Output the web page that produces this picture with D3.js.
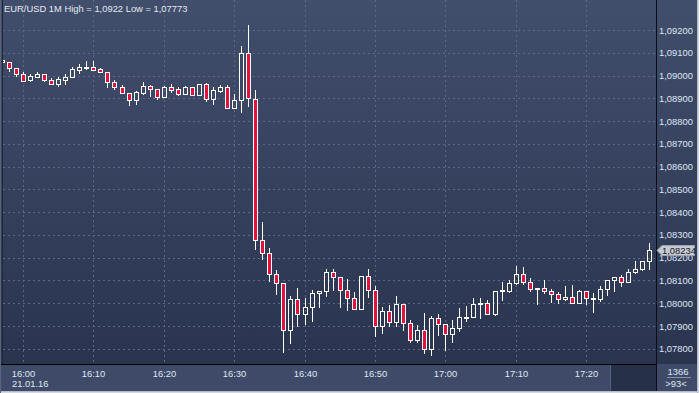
<!DOCTYPE html>
<html><head><meta charset="utf-8">
<script src="https://cdn.jsdelivr.net/npm/d3@7"></script>
<style>
html,body{margin:0;padding:0;background:#b9c0cc;}
svg{display:block;font-family:"Liberation Sans",Arial,sans-serif;}
</style>
</head><body>
<svg id="c" width="699" height="393"></svg>
<script>
const times = ["15:57","15:58","15:59","16:00","16:01","16:02","16:03","16:04","16:05","16:06",
"16:07","16:08","16:09","16:10","16:11","16:12","16:13","16:14","16:15","16:16",
"16:17","16:18","16:19","16:20","16:21","16:22","16:23","16:24","16:25","16:26",
"16:27","16:28","16:29","16:30","16:31","16:32","16:33","16:34","16:35","16:36",
"16:37","16:38","16:39","16:40","16:41","16:42","16:43","16:44","16:45","16:46",
"16:47","16:48","16:49","16:50","16:51","16:52","16:53","16:54","16:55","16:56",
"16:57","16:58","16:59","17:00","17:01","17:02","17:03","17:04","17:05","17:06",
"17:07","17:08","17:09","17:10","17:11","17:12","17:13","17:14","17:15","17:16",
"17:17","17:18","17:19","17:20","17:21","17:22","17:23","17:24","17:25","17:26",
"17:27","17:28","17:29"];

const open = [1.09060,1.09058,1.09032,1.09007,1.08979,1.08995,1.09007,1.08979,1.08964,1.08982,
1.08992,1.09026,1.09035,1.09038,1.09028,1.09014,1.08972,1.08950,1.08924,1.08892,
1.08925,1.08953,1.08940,1.08907,1.08949,1.08940,1.08919,1.08949,1.08916,1.08963,
1.08899,1.08934,1.08949,1.08857,1.08893,1.09098,1.08896,1.08278,1.08221,1.08129,
1.08089,1.07881,1.08019,1.07952,1.07984,1.08045,1.08053,1.08137,1.08115,1.08060,
1.08023,1.07976,1.08121,1.08057,1.07899,1.07968,1.07916,1.07998,1.07914,1.07837,
1.07884,1.07797,1.07936,1.07909,1.07865,1.07892,1.07936,1.07938,1.07997,1.08001,
1.07953,1.08054,1.08052,1.08089,1.08130,1.08093,1.08063,1.08067,1.08055,1.08041,
1.08019,1.08028,1.08001,1.08052,1.08020,1.08020,1.08063,1.08100,1.08115,1.08093,
1.08137,1.08150,1.08184];

const high = [1.09073,1.09060,1.09033,1.09014,1.09007,1.09016,1.09008,1.08991,1.08992,1.09007,
1.09036,1.09051,1.09063,1.09063,1.09032,1.09014,1.08981,1.08957,1.08924,1.08934,
1.08971,1.08959,1.08940,1.08954,1.08963,1.08951,1.08954,1.08949,1.08963,1.08966,
1.08951,1.08959,1.08959,1.08919,1.09130,1.09220,1.08937,1.08359,1.08243,1.08144,
1.08089,1.08033,1.08068,1.08025,1.08060,1.08054,1.08150,1.08152,1.08115,1.08107,
1.08050,1.08121,1.08152,1.08077,1.07984,1.07994,1.08033,1.07998,1.07928,1.07903,
1.07959,1.07946,1.07954,1.07909,1.07928,1.07979,1.07990,1.08023,1.08023,1.08013,
1.08054,1.08093,1.08104,1.08165,1.08159,1.08111,1.08067,1.08100,1.08063,1.08050,
1.08077,1.08080,1.08060,1.08052,1.08045,1.08077,1.08104,1.08115,1.08125,1.08150,
1.08187,1.08187,1.08265];

const low = [1.09055,1.09020,1.09000,1.08975,1.08976,1.08995,1.08978,1.08964,1.08956,1.08962,
1.08992,1.09011,1.09028,1.09026,1.09014,1.08951,1.08940,1.08922,1.08872,1.08874,
1.08918,1.08912,1.08896,1.08907,1.08929,1.08916,1.08919,1.08916,1.08916,1.08890,
1.08875,1.08929,1.08857,1.08857,1.08842,1.08868,1.08238,1.08194,1.08099,1.08042,
1.07785,1.07826,1.07899,1.07907,1.07921,1.07984,1.08030,1.08057,1.07984,1.07972,
1.07976,1.07976,1.08028,1.07855,1.07870,1.07899,1.07899,1.07884,1.07829,1.07829,
1.07782,1.07773,1.07862,1.07793,1.07829,1.07877,1.07924,1.07938,1.07936,1.07953,
1.07947,1.08013,1.08048,1.08083,1.08085,1.08052,1.07997,1.08045,1.08006,1.08001,
1.08013,1.08001,1.08001,1.07998,1.07960,1.08008,1.08038,1.08052,1.08074,1.08093,
1.08133,1.08147,1.08150];

const close = [1.09068,1.09032,1.09006,1.08978,1.08998,1.09007,1.08981,1.08964,1.08985,1.08994,
1.09028,1.09038,1.09036,1.09026,1.09014,1.08971,1.08950,1.08922,1.08892,1.08927,
1.08954,1.08940,1.08907,1.08950,1.08938,1.08919,1.08950,1.08916,1.08963,1.08897,
1.08937,1.08949,1.08857,1.08892,1.09098,1.08900,1.08279,1.08221,1.08129,1.08089,
1.07881,1.08019,1.07952,1.07985,1.08045,1.08054,1.08137,1.08114,1.08057,1.08023,
1.07976,1.08121,1.08057,1.07899,1.07968,1.07918,1.07998,1.07914,1.07837,1.07884,
1.07797,1.07936,1.07911,1.07865,1.07892,1.07940,1.07940,1.07997,1.08000,1.07953,
1.08054,1.08057,1.08089,1.08130,1.08092,1.08063,1.08067,1.08052,1.08041,1.08019,
1.08028,1.08001,1.08052,1.08023,1.08023,1.08063,1.08104,1.08115,1.08093,1.08139,
1.08150,1.08187,1.08234];

const yTicks = [1.078,1.079,1.080,1.081,1.082,1.083,1.084,1.085,1.086,1.087,1.088,1.089,1.090,1.091,1.092];
const xTicks = ["16:00","16:10","16:20","16:30","16:40","16:50","17:00","17:10","17:20"];
const day = "2016-01-21";
const dateLabel = "21.01.16";
const title = "EUR/USD 1M High = 1,0922 Low = 1,07773";
const lastPrice = 1.08234;
const barCount = "1366";
const visibleCount = ">93<";

const svg = d3.select("#c");
const parse = d3.timeParse("%Y-%m-%d %H:%M");
const PX0 = 3, PX1 = 656, PY1 = 364;

const x = d3.scaleTime()
  .domain([parse(day + " 16:00"), parse(day + " 17:20")])
  .range([23, 586]);
const y = d3.scaleLinear().domain([1.078, 1.092]).range([348.8, 30]);
const fmt = v => d3.format(".5f")(v).replace(".", ",");

const defs = svg.append("defs");
const g1 = defs.append("linearGradient").attr("id","bg").attr("x1",0).attr("y1",0).attr("x2",0).attr("y2",1);
g1.append("stop").attr("offset","0%").attr("stop-color","#414e6c");
g1.append("stop").attr("offset","100%").attr("stop-color","#2a344f");
defs.append("clipPath").attr("id","clip").append("rect")
  .attr("x",PX0).attr("y",0).attr("width",PX1-PX0).attr("height",PY1);

// backgrounds
svg.append("rect").attr("x",0).attr("y",0).attr("width",699).attr("height",393).attr("fill","#3d4966");
svg.append("rect").attr("x",0).attr("y",0).attr("width",699).attr("height",PY1).attr("fill","url(#bg)");
svg.append("rect").attr("x",0).attr("y",PY1).attr("width",699).attr("height",28).attr("fill","#3e4a67");
svg.append("rect").attr("x",611).attr("y",PY1+1).attr("width",45).attr("height",27).attr("fill","#263049");
svg.append("line").attr("x1",610.5).attr("x2",610.5).attr("y1",PY1+1).attr("y2",392).attr("stroke","#56627d");

// grid
const grid = svg.append("g").attr("clip-path","url(#clip)").attr("shape-rendering","crispEdges");
grid.selectAll("line.h").data(yTicks).join("line")
  .attr("x1",PX0).attr("x2",PX1).attr("y1",d=>Math.round(y(d))+0.5).attr("y2",d=>Math.round(y(d))+0.5)
  .attr("stroke","#5c6986").attr("stroke-dasharray","2,3");
grid.selectAll("line.v").data(xTicks).join("line")
  .attr("x1",d=>Math.round(x(parse(day+" "+d)))+0.5).attr("x2",d=>Math.round(x(parse(day+" "+d)))+0.5)
  .attr("y1",0).attr("y2",PY1)
  .attr("stroke","#5c6986").attr("stroke-dasharray","2,3");

// candles
const data = times.map((t,i)=>({t:parse(day+" "+t),o:open[i],h:high[i],l:low[i],c:close[i]}));
const cg = svg.append("g").attr("clip-path","url(#clip)").attr("shape-rendering","crispEdges");
data.forEach(d=>{
  const cx = Math.round(x(d.t));
  const top = Math.round(y(Math.max(d.o,d.c)));
  let bot = Math.round(y(Math.min(d.o,d.c)));
  if (bot - top < 1) bot = top + 1;
  const yh = Math.round(y(d.h)), yl = Math.round(y(d.l));
  const up = d.c >= d.o;
  if (yh < top) cg.append("line").attr("x1",cx+0.5).attr("x2",cx+0.5).attr("y1",yh).attr("y2",top).attr("stroke","#ffffff");
  if (yl > bot) cg.append("line").attr("x1",cx+0.5).attr("x2",cx+0.5).attr("y1",bot).attr("y2",yl+1).attr("stroke","#ffffff");
  cg.append("rect").attr("x",cx-1.5).attr("y",top+0.5).attr("width",4).attr("height",bot-top)
    .attr("fill",up?"none":"#e3123d").attr("stroke","#ffffff").attr("stroke-width",1);
});

// axes lines
svg.append("line").attr("x1",0).attr("x2",PX1).attr("y1",PY1+0.5).attr("y2",PY1+0.5).attr("stroke","#000").attr("shape-rendering","crispEdges");
svg.append("line").attr("x1",PX1+0.5).attr("x2",PX1+0.5).attr("y1",0).attr("y2",393).attr("stroke","#0a0d14").attr("shape-rendering","crispEdges");
svg.append("line").attr("x1",2.5).attr("x2",2.5).attr("y1",0).attr("y2",PY1).attr("stroke","#1f2638").attr("shape-rendering","crispEdges");

// right axis labels
svg.append("g").selectAll("text").data(yTicks).join("text")
  .attr("x",659).attr("y",d=>y(d)+3.5).attr("font-size","9.4px").attr("fill","#dfe7f5")
  .text(d=>fmt(d));

// last price marker
const ly = Math.round(y(lastPrice));
svg.append("path")
  .attr("d",`M657,${ly+0.5} L662,${ly-4.5} L694.5,${ly-4.5} L694.5,${ly+5.5} L662,${ly+5.5} Z`)
  .attr("fill","#c6cad2").attr("stroke","#9aa2b0");
svg.append("text").attr("x",662).attr("y",ly+4).attr("font-size","9.4px").attr("fill","#141a28").text(fmt(lastPrice));

// bottom axis labels
svg.append("g").selectAll("text").data(xTicks).join("text")
  .attr("x",d=>Math.round(x(parse(day+" "+d)))+0.5).attr("y",376.5).attr("text-anchor","middle")
  .attr("font-size","9.4px").attr("fill","#dfe7f5").text(d=>d);
svg.append("text").attr("x",12).attr("y",387).attr("font-size","9.4px").attr("fill","#dfe7f5").text(dateLabel);

// bottom-right box
svg.append("text").attr("x",678).attr("y",375).attr("text-anchor","middle").attr("font-size","9.4px").attr("fill","#dfe7f5").text(barCount);
svg.append("line").attr("x1",667).attr("x2",691).attr("y1",377.5).attr("y2",377.5).attr("stroke","#8893a8");
svg.append("text").attr("x",676).attr("y",387).attr("text-anchor","middle").attr("font-size","9.4px").attr("fill","#dfe7f5").text(visibleCount);

// title
svg.append("text").attr("x",4).attr("y",11.5).attr("font-size","9.4px").attr("fill","#e4e9f2").text(title);

// outer frame
svg.append("line").attr("x1",0).attr("x2",699).attr("y1",391.5).attr("y2",391.5).attr("stroke","#b4bcc9");
svg.append("line").attr("x1",0).attr("x2",699).attr("y1",392.5).attr("y2",392.5).attr("stroke","#d3d8e0");
svg.append("line").attr("x1",697.5).attr("x2",697.5).attr("y1",0).attr("y2",393).attr("stroke","#b4bcc9");
svg.append("line").attr("x1",698.5).attr("x2",698.5).attr("y1",0).attr("y2",393).attr("stroke","#d3d8e0");
svg.append("line").attr("x1",0.5).attr("x2",0.5).attr("y1",0).attr("y2",393).attr("stroke","#59647c");
</script>
</body></html>
